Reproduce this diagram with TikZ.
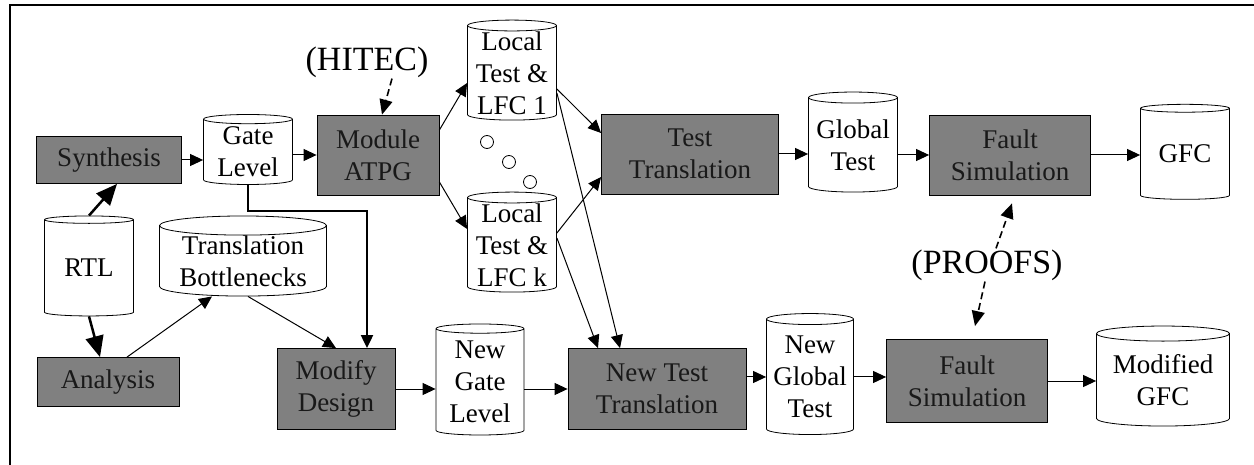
\documentclass[tikz,border=0pt]{standalone}
\usepackage{fontspec}
\setmainfont{Liberation Serif}
\usetikzlibrary{shapes.geometric, arrows.meta, positioning}

\begin{document}
\begin{tikzpicture}[
		x=1pt, y=-1pt,
		font=\fontsize{27}{32}\selectfont,
		proc/.style={rectangle, draw=black, thick, fill=black!50, text=black!90, align=center, inner sep=0pt},
		store/.style={cylinder, shape border rotate=90, draw=black, thick, fill=white, aspect=0.15, align=center, inner sep=0pt},
		flow/.style={-{Triangle[length=13pt,width=12pt]}, line width=1pt},
		bigflow/.style={-{Triangle[length=21pt,width=18pt]}, line width=2.5pt},
		tool/.style={font=\fontsize{34}{36}\selectfont, inner sep=1pt},
		toolflow/.style={-{Triangle[length=15pt,width=13pt]}, dash pattern=on 7pt off 4pt, line width=1.6pt},
		dot/.style={circle, draw=black, thick, minimum size=13pt, inner sep=0pt}
		]
		\useasboundingbox (0,0) rectangle (1254,465);
		
		% Frame
		\draw[line width=2pt] (10,465) -- (10,5) -- (1254,5);
		
		% Front end
		\node[store, minimum width=89pt, minimum height=100pt] (rtl) at (89,268) {RTL};
		\node[proc, minimum width=145pt, minimum height=47pt] (synth) at (109,160) {Synthesis};
		\node[proc, minimum width=142pt, minimum height=49pt] (analysis) at (108,382) {Analysis};
		\node[store, minimum width=89pt, minimum height=70pt] (gate) at (248,152) {Gate\\Level};
		\node[store, minimum width=167pt, minimum height=68pt] (bottle) at (243,261) {Translation\\Bottlenecks};
		\node[proc, minimum width=122pt, minimum height=80pt] (atpg) at (378,155) {Module\\ATPG};
		\node[proc, minimum width=118pt, minimum height=81pt] (modify) at (336,389) {Modify\\Design};
		
		% Local tests
		\node[store, minimum width=89pt, minimum height=100pt] (lfc1) at (512,73) {Local\\Test \&\\LFC 1};
		\node[store, minimum width=89pt, minimum height=100pt] (lfck) at (512,245) {Local\\Test \&\\LFC k};
		\node[dot] (d1) at (487,142) {};
		\node[dot] (d2) at (509,162) {};
		\node[dot] (d3) at (530,182) {};
		
		% Original flow
		\node[proc, minimum width=177pt, minimum height=80pt] (tt) at (690,154) {Test\\Translation};
		\node[store, minimum width=89pt, minimum height=100pt] (gt) at (853,145) {Global\\Test};
		\node[proc, minimum width=161pt, minimum height=80pt] (fs1) at (1010,155) {Fault\\Simulation};
		\node[store, minimum width=89pt, minimum height=95pt] (gfc) at (1185,154) {GFC};
		
		% Modified flow
		\node[store, minimum width=88pt, minimum height=111pt] (ngl) at (480,382) {New\\Gate\\Level};
		\node[proc, minimum width=178pt, minimum height=81pt] (ntt) at (657,389) {New Test\\Translation};
		\node[store, minimum width=87pt, minimum height=121pt] (ngt) at (810,377) {New\\Global\\Test};
		\node[proc, minimum width=161pt, minimum height=83pt] (fs2) at (967,381) {Fault\\Simulation};
		\node[store, minimum width=133pt, minimum height=100pt] (mgfc) at (1163,380) {Modified\\GFC};
		
		% Tools
		\node[tool] (hitec) at (367,62) {(HITEC)};
		\node[tool] (proofs) at (987,265) {(PROOFS)};
		
		% Connect them
		\draw[bigflow] (rtl.north) -- ([xshift=8pt]synth.south);
		\draw[bigflow] (rtl.south) -- ([xshift=-8pt]analysis.north);
		\draw[flow] ([xshift=19pt]analysis.north) -- ([xshift=-31pt]bottle.south);
		\draw[flow] ([xshift=5pt]bottle.south) -- (modify.north);
		\draw[flow] (synth.east) -- (synth.east -| gate.west);
		\draw[flow] (atpg.west -| gate.east) -- (atpg.west);
		\draw[flow, line width=2pt] (gate.south) -- ++(0,26) -| ([xshift=31pt]modify.north);
		\draw[flow] ([yshift=25pt]atpg.east) -- ([yshift=-10pt]lfc1.west);
		\draw[flow] ([yshift=-27pt]atpg.east) -- ([yshift=16pt]lfck.west);
		\draw[flow] ([yshift=-16pt]lfc1.east) -- ([yshift=21pt]tt.west);
		\draw[flow] ([yshift=12pt]lfck.east) -- ([yshift=-23pt]tt.west);
		\draw[flow] ([yshift=-20pt]lfc1.east) -- ([xshift=-37pt]ntt.north);
		\draw[flow] ([yshift=7pt]lfck.east) -- ([xshift=-59pt]ntt.north);
		\draw[flow] (modify.east) -- (modify.east -| ngl.west);
		\draw[flow] (ntt.west -| ngl.east) -- (ntt.west);
		\draw[flow] (tt.east) -- (tt.east -| gt.west);
		\draw[flow] (fs1.west -| gt.east) -- (fs1.west);
		\draw[flow] (fs1.east) -- (fs1.east -| gfc.west);
		\draw[flow] (ntt.east |- ngt.west) -- (ngt.west);
		\draw[flow] (ngt.east) -- (ngt.east -| fs2.west);
		\draw[flow] (fs2.east) -- (fs2.east -| mgfc.west);
		
		% Tool links
		\draw[toolflow] ([xshift=25pt]hitec.south) -- ([xshift=4pt]atpg.north);
		\draw[toolflow] ([xshift=9pt]proofs.north) -- ([xshift=2pt,yshift=-8pt]fs1.south);
		\draw[toolflow] ([xshift=-2pt]proofs.south) -- ([xshift=8pt,yshift=13pt]fs2.north);
	\end{tikzpicture}
\end{document}
